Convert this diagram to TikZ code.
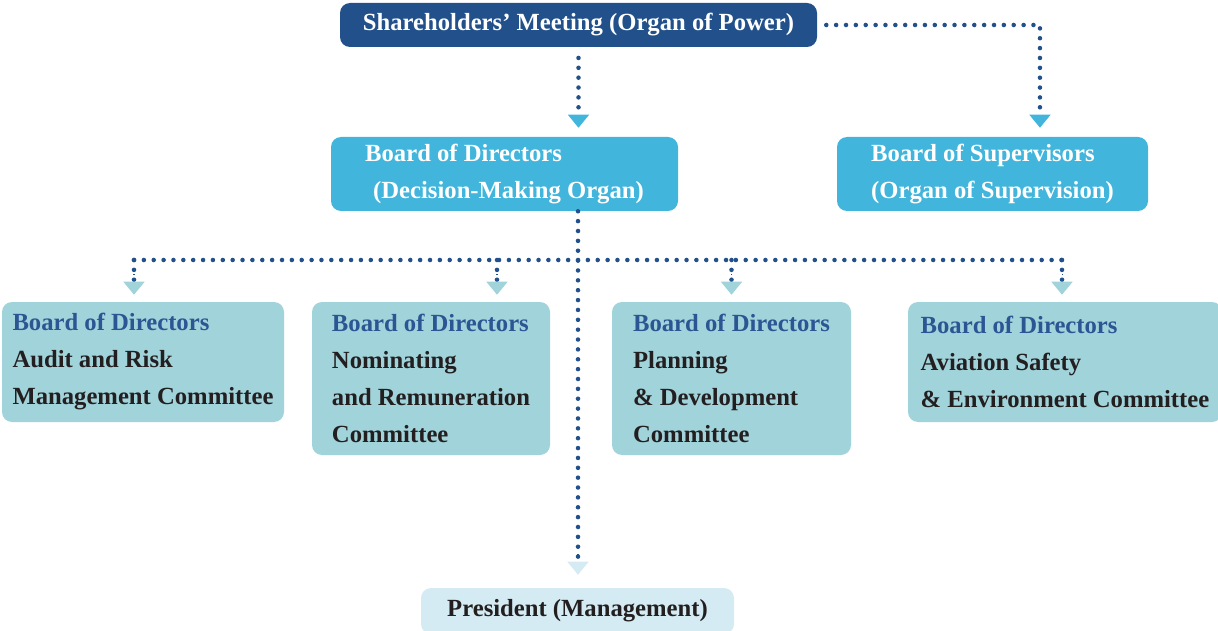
\documentclass[tikz,border=0pt]{standalone}
\usepackage{fontspec}
\setmainfont{Liberation Serif}
\usetikzlibrary{arrows.meta,positioning}
\definecolor{powerblue}{HTML}{21508A}
\definecolor{boardcyan}{HTML}{41B5DC}
\definecolor{committeeteal}{HTML}{A1D3DA}
\definecolor{managepale}{HTML}{D4EBF3}
\definecolor{dirblue}{HTML}{2B5593}
\definecolor{inkblack}{HTML}{231F20}
\tikzset{
  orgbox/.style={rounded corners=7.5pt, inner sep=0pt, align=left,
    font=\bfseries\fontsize{18.5}{27.75}\selectfont},
  dotline/.style={draw=powerblue, line width=3.4pt, line cap=round,
    dash pattern=on 0pt off 7.4pt},
  headto/.style={-{Triangle[length=0.01pt,width=0.01pt,line width=0pt,fill=none,sep=5.25pt]
    Triangle[width=16pt,length=9.75pt,line width=0pt,sep=0pt,color=#1,fill=#1]}}
}
\begin{document}
\begin{tikzpicture}[x=0.75pt,y=-0.75pt]
  \useasboundingbox (0,0) rectangle (1218,631);
  \begin{scope}[every node/.style={orgbox}]
    \node[fill=powerblue, text=white, minimum width=357.75pt, minimum height=33pt]
      (sh) at (578.5,25) {Shareholders’ Meeting (Organ of Power)};
    \node[fill=boardcyan, text=white, minimum width=260.25pt, minimum height=55.5pt]
      (bod) at (504.5,174) {Board of Directors\\\hspace*{6pt}(Decision-Making Organ)};
    \node[fill=boardcyan, text=white, minimum width=233.25pt, minimum height=55.5pt]
      (bos) at (992.5,174) {Board of Supervisors\\(Organ of Supervision)};
    \node[fill=committeeteal, text=inkblack, minimum width=211.5pt, minimum height=90pt]
      (aud) at (143,362) {{\color{dirblue}Board of Directors}\\Audit and Risk\\Management Committee};
    \node[fill=committeeteal, text=inkblack, minimum width=178.5pt, minimum height=114.75pt]
      (nom) at (431,378.5) {{\color{dirblue}Board of Directors}\\Nominating\\and Remuneration\\Committee};
    \node[fill=committeeteal, text=inkblack, minimum width=179.25pt, minimum height=114.75pt]
      (pla) at (731.5,378.5) {{\color{dirblue}Board of Directors}\\Planning\\\& Development\\Committee};
    \node[fill=committeeteal, text=inkblack, minimum width=235.5pt, minimum height=90pt]
      (avi) at (1065,362) {{\color{dirblue}Board of Directors}\\Aviation Safety\\\& Environment Committee};
    \node[fill=managepale, text=inkblack, minimum width=234.75pt, minimum height=34.5pt]
      (pres) at (577.5,611) {President (Management)};
  \end{scope}
  \coordinate (spine) at (578,260);
  \coordinate (busL) at (134,260);
  \coordinate (busR) at (1062,260);
  \begin{scope}[every path/.style={dotline}]
    % power to the two boards
    \draw[headto=boardcyan, shorten <=8pt, shorten >=6.75pt]
      (sh.south) -- (sh.south |- bod.north);
    \draw[headto=boardcyan, shorten <=6.75pt, shorten >=6.75pt]
      (sh.east) -| ([xshift=35.6pt]bos.north);
    % board to management
    \draw[headto=managepale, shorten >=9.75pt]
      (spine |- bod.south) -- (spine |- pres.north);
    % board to committees
    \draw (busL) -- (busR);
    \foreach \n/\dx in {aud/-6.75pt, nom/49.5pt, pla/0pt, avi/-2.25pt}
      \draw[headto=committeeteal, shorten >=5.25pt]
        ([xshift=\dx]\n.north |- busL) -- ([xshift=\dx]\n.north);
  \end{scope}
\end{tikzpicture}
\end{document}
